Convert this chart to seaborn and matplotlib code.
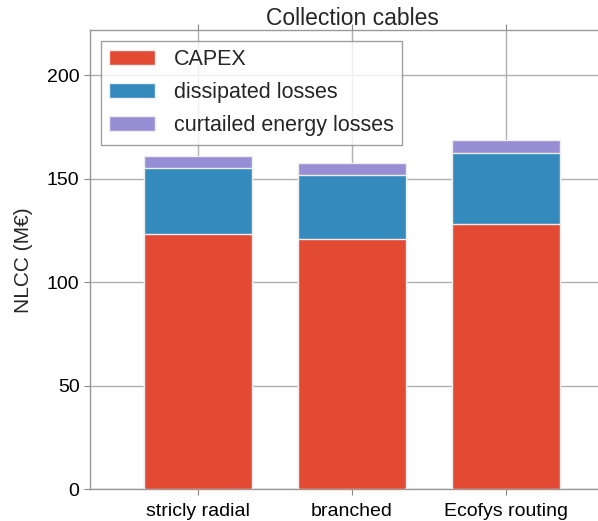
import matplotlib
matplotlib.use("Agg")
import matplotlib.pyplot as plt
import seaborn as sns
import pandas as pd
import numpy as np
from matplotlib.patches import Patch

# values (M€)
layouts = ["stricly radial", "branched", "Ecofys routing"]
capex = [123.2, 121.0, 128.1]
dissipated = [32.0, 30.9, 34.3]
curtailed = [6.1, 6.0, 6.4]

series_names = ["CAPEX", "dissipated losses", "curtailed energy losses"]
colors = ["#E24A33", "#348ABD", "#988ED5"]

sns.set_style("white")
plt.rcParams["font.family"] = ["Liberation Sans", "DejaVu Sans"]

df = pd.DataFrame({"layout": layouts, "capex": capex,
                   "dissipated": dissipated, "curtailed": curtailed})
df["lvl1"] = df["capex"]
df["lvl2"] = df["lvl1"] + df["dissipated"]
df["lvl3"] = df["lvl2"] + df["curtailed"]

fig = plt.figure(figsize=(5.98, 5.21), dpi=100)
ax = fig.add_axes([0.1505, 0.0605, 0.8763, 0.882])

# stacked bars: draw the tallest level first
for col, c in zip(["lvl3", "lvl2", "lvl1"], colors[::-1]):
    sns.barplot(data=df, x="layout", y=col, color=c, width=0.7,
                edgecolor="#EEEEEE", linewidth=1, saturation=1, ax=ax, zorder=3)

ax.set_xlim(-0.7, 2.7)
ax.set_ylim(0, 222)
ax.set_yticks([0, 50, 100, 150, 200])
ax.grid(True, color="#b0b0b0", linewidth=1)
ax.set_axisbelow(True)
for s in ax.spines.values():
    s.set_color("#999999")
    s.set_linewidth(1)
ax.tick_params(axis="both", which="both", direction="out", length=4,
               color="#888888", labelsize=14, top=True, right=True,
               bottom=True, left=True, labelcolor="black")
ax.tick_params(axis="x", pad=6)
ax.set_xlabel("")
ax.set_ylabel("NLCC (M€)", fontsize=15, labelpad=10)
ax.set_title("Collection cables", fontsize=16.5, pad=3)

handles = [Patch(facecolor=c, edgecolor="#EEEEEE", linewidth=1) for c in colors]
leg = ax.legend(handles, series_names, loc="upper left", fontsize=15.5,
                fancybox=False, frameon=True, handlelength=2.1,
                borderaxespad=0.5, labelspacing=0.55, handletextpad=0.9)
leg.get_frame().set_edgecolor("#888888")
leg.get_frame().set_linewidth(1)

fig.savefig("out.png", dpi=100)
